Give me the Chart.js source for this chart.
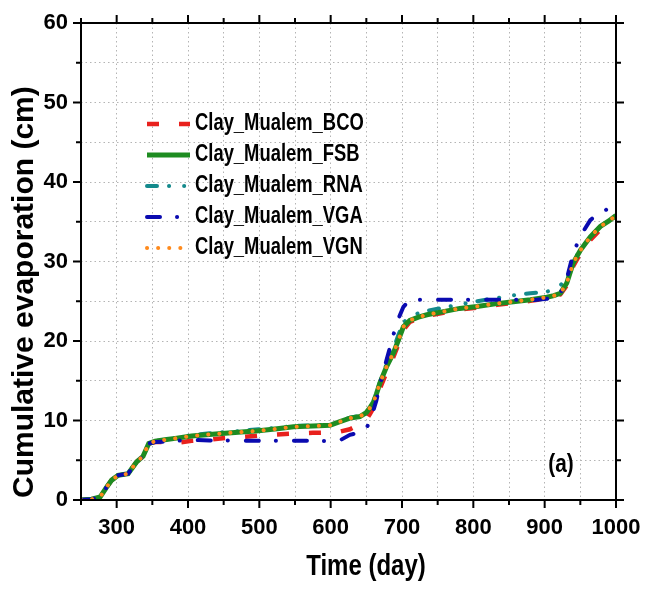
<!DOCTYPE html>
<html>
<head>
<meta charset="utf-8">
<script src="https://cdn.jsdelivr.net/npm/chart.js@4.4.1/dist/chart.umd.min.js"></script>
<style>
  body { margin: 0; background: #fff; }
  canvas { display: block; }
</style>
</head>
<body>
<canvas id="evapChart" width="645" height="592"></canvas>
<script>
// time axis (day) shared by all runs
const days = [250,265,277,285,293,302,316,328,337,345,354,370,382,405,430,452,475,499,525,548,575,599,613,627,641,650,655,660,664,669,678,688,695,702,711,723,735,758,781,805,833,856,880,903,913,922,931,940,950,964,978,990,1000];

// cumulative evaporation (cm)
const bco = [0,0.1,0.4,1.5,2.5,3.1,3.3,4.8,5.5,7.1,7.3,7.3,7.15,7.45,7.6,7.8,7.9,8.1,8.25,8.35,8.45,8.5,8.6,8.9,9.5,10.1,10.8,11.6,12.6,14.0,16.0,18.0,19.6,21.4,22.4,22.85,23.15,23.55,23.95,24.2,24.55,24.8,25.05,25.35,25.55,25.85,27.0,29.4,31.0,32.7,34.0,34.7,35.3];
const fsb = [0,0.1,0.4,1.5,2.5,3.1,3.3,4.8,5.5,7.1,7.4,7.6,7.75,8.05,8.25,8.4,8.55,8.7,8.95,9.2,9.3,9.4,9.85,10.3,10.5,11.0,11.6,12.3,13.3,14.7,16.7,18.5,20.1,21.8,22.6,23.0,23.3,23.7,24.1,24.35,24.7,24.95,25.2,25.5,25.7,26.0,27.3,29.8,31.4,33.1,34.4,35.1,35.8];
const rna = [0,0.1,0.4,1.5,2.5,3.1,3.3,4.8,5.5,7.1,7.4,7.6,7.75,8.15,8.4,8.55,8.7,8.9,9.1,9.3,9.4,9.5,9.9,10.35,10.6,11.0,11.6,12.4,13.4,14.8,17.0,19.0,20.8,22.3,23.1,23.5,23.8,24.2,24.6,25.0,25.4,25.75,26.0,26.2,26.5,27.0,27.8,30.0,31.5,33.1,34.4,35.1,35.8];
const vga = [0,0.1,0.4,1.5,2.5,3.1,3.3,4.8,5.5,7.1,7.3,7.35,7.45,7.55,7.5,7.5,7.45,7.45,7.45,7.45,7.45,7.4,7.5,8.2,8.5,9.0,9.9,11.3,12.5,14.5,17.5,20.8,22.8,24.3,25.2,25.2,25.2,25.2,25.2,25.2,25.2,25.2,25.1,25.3,25.6,26.0,27.8,31.0,33.2,35.2,36.3,36.6,36.5];
const vgn = [0,0.1,0.4,1.5,2.5,3.1,3.3,4.8,5.5,7.1,7.4,7.6,7.75,8.05,8.25,8.4,8.55,8.7,8.95,9.2,9.3,9.4,9.85,10.3,10.5,11.0,11.6,12.3,13.3,14.7,16.7,18.5,20.1,21.8,22.6,23.0,23.3,23.7,24.1,24.35,24.7,24.95,25.2,25.5,25.7,26.0,27.3,29.8,31.4,33.1,34.4,35.1,35.8];

const seriesNames = ['Clay_Mualem_BCO', 'Clay_Mualem_FSB', 'Clay_Mualem_RNA', 'Clay_Mualem_VGA', 'Clay_Mualem_VGN'];
const xTickValues = [300,400,500,600,700,800,900,1000];
const yTickValues = [0,10,20,30,40,50,60];

const FONT = "'Liberation Sans', Arial, sans-serif";

function pts(vals) {
    return days.map((d, i) => ({x: d, y: vals[i]}));
}

// horizontally squeezed text, the source figure looks stretched in height
function narrowText(ctx, text, x, y, size, align) {
    const sx = 0.8;
    ctx.save();
    ctx.translate(x, y);
    ctx.scale(sx, 1);
    ctx.font = 'bold ' + size + 'px ' + FONT;
    ctx.textAlign = align;
    ctx.textBaseline = 'middle';
    ctx.fillText(text, 0, 0);
    ctx.restore();
}

// frame, outward ticks, axis titles, legend and panel tag
const framePlugin = {
    id: 'frame',
    afterDraw(chart) {
        const ctx = chart.ctx;
        const a = chart.chartArea;
        const xs = chart.scales.x, ys = chart.scales.y;
        ctx.save();
        ctx.strokeStyle = '#000';
        ctx.lineWidth = 2;
        ctx.strokeRect(a.left, a.top, a.right - a.left, a.bottom - a.top);

        for (let d = 250; d <= 1000; d += 50) {
            const px = xs.getPixelForValue(d);
            const len = xTickValues.includes(d) ? 8 : 5;
            ctx.beginPath();
            ctx.moveTo(px, a.bottom); ctx.lineTo(px, a.bottom + len);
            ctx.moveTo(px, a.top); ctx.lineTo(px, a.top - len);
            ctx.stroke();
        }
        for (let v = 0; v <= 60; v += 5) {
            const py = ys.getPixelForValue(v);
            const len = yTickValues.includes(v) ? 8 : 5;
            ctx.beginPath();
            ctx.moveTo(a.left, py); ctx.lineTo(a.left - len, py);
            ctx.moveTo(a.right, py); ctx.lineTo(a.right + len, py);
            ctx.stroke();
        }

        ctx.fillStyle = '#000';
        narrowText(ctx, 'Time (day)', 366, 567, 30, 'center');

        ctx.save();
        ctx.translate(25, 498);
        ctx.rotate(-Math.PI / 2);
        ctx.font = 'bold 30px ' + FONT;
        ctx.textAlign = 'left';
        ctx.textBaseline = 'middle';
        ctx.fillText('Cumulative evaporation (cm)', 0, 0);
        ctx.restore();

        // legend inside plot
        chart.data.datasets.forEach((ds, i) => {
            const y = 124 + i * 31;
            ctx.save();
            ctx.strokeStyle = ds.borderColor;
            ctx.lineWidth = ds.borderWidth;
            ctx.lineCap = ds.borderCapStyle || 'butt';
            ctx.setLineDash(ds.borderDash || []);
            ctx.beginPath();
            ctx.moveTo(147, y); ctx.lineTo(190, y);
            ctx.stroke();
            ctx.restore();
            narrowText(ctx, ds.label, 195, y, 23, 'left');
        });

        narrowText(ctx, '(a)', 561, 465, 26, 'center');
        ctx.restore();
    }
};

const ctx = document.getElementById('evapChart').getContext('2d');
const evapChart = new Chart(ctx, {
    type: 'line',
    data: {
        datasets: [
            {label: seriesNames[0], data: pts(bco), borderColor: '#e8211d', borderWidth: 4.5, borderDash: [12, 20], order: 4},
            {label: seriesNames[1], data: pts(fsb), borderColor: '#1e8c21', borderWidth: 5, order: 2},
            {label: seriesNames[2], data: pts(rna), borderColor: '#148a8c', borderWidth: 4, borderCapStyle: 'round', borderDash: [10, 12, 0.1, 15, 0.1, 12], order: 3},
            {label: seriesNames[3], data: pts(vga), borderColor: '#0a0ab0', borderWidth: 4, borderCapStyle: 'round', borderDash: [13, 17, 0.1, 18], order: 1},
            {label: seriesNames[4], data: pts(vgn), borderColor: '#ff8a1c', borderWidth: 4, borderCapStyle: 'round', borderDash: [0.1, 11], order: 0}
        ]
    },
    options: {
        responsive: false,
        animation: false,
        layout: {padding: {top: 23, right: 29, left: 0, bottom: 0}},
        elements: {point: {radius: 0}, line: {tension: 0}},
        plugins: {legend: {display: false}, tooltip: {enabled: false}},
        scales: {
            x: {
                type: 'linear',
                min: 250,
                max: 1000,
                afterFit: function(scale) {
                    scale.height = 92;
                    scale.paddingLeft = 0;
                    scale.paddingRight = 0;
                },
                ticks: {
                    stepSize: 50,
                    autoSkip: false,
                    maxRotation: 0,
                    padding: 15,
                    color: '#000',
                    font: {family: FONT, size: 22, weight: 'bold'},
                    callback: v => xTickValues.includes(v) ? String(v) : ''
                },
                grid: {color: '#b4b4b4', lineWidth: 1, drawTicks: false},
                border: {display: false, dash: [1.5, 3]}
            },
            y: {
                min: 0,
                max: 60,
                afterFit: function(scale) {
                    scale.width = 81;
                    scale.paddingTop = 0;
                    scale.paddingBottom = 0;
                },
                ticks: {
                    stepSize: 5,
                    autoSkip: false,
                    padding: 13,
                    color: '#000',
                    font: {family: FONT, size: 22, weight: 'bold'},
                    callback: v => yTickValues.includes(v) ? String(v) : ''
                },
                grid: {color: '#b4b4b4', lineWidth: 1, drawTicks: false},
                border: {display: false, dash: [1.5, 3]}
            }
        }
    },
    plugins: [framePlugin]
});
</script>
</body>
</html>
